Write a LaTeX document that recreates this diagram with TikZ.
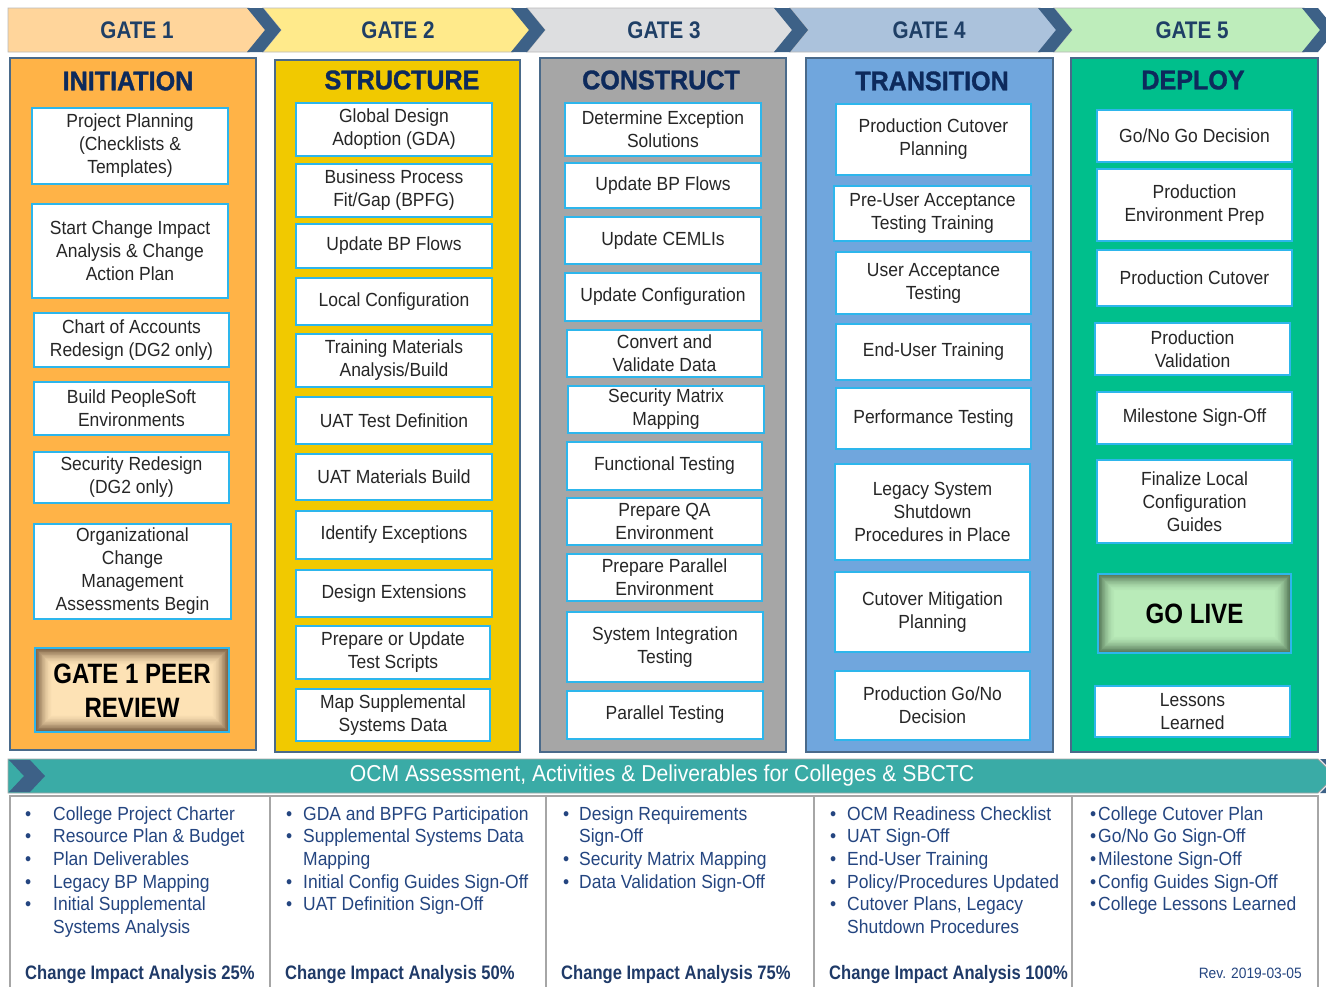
\documentclass[tikz,border=0pt]{standalone}
\usepackage{fontspec}
\setmainfont{Liberation Sans}
\newfontfamily\fntBox{Liberation Sans}[FakeStretch=0.92]
\newfontfamily\fntGate{Liberation Sans}[FakeStretch=0.86]
\newfontfamily\fntTitle{Liberation Sans}[FakeStretch=0.93, BoldFeatures={FakeBold=1.2}]
\newfontfamily\fntCI{Liberation Sans}[FakeStretch=0.85]
\newfontfamily\fntBig{Liberation Sans}[FakeStretch=0.86]

\definecolor{g1fill}{HTML}{FFD59B}
\definecolor{g2fill}{HTML}{FFEA8B}
\definecolor{g3fill}{HTML}{DDDEE0}
\definecolor{g4fill}{HTML}{ABC2DC}
\definecolor{g5fill}{HTML}{BEEDBB}
\definecolor{chev}{HTML}{3D6187}
\definecolor{c1fill}{HTML}{FFB347}
\definecolor{c2fill}{HTML}{F1C900}
\definecolor{c3fill}{HTML}{A6A6A6}
\definecolor{c4fill}{HTML}{70A6DD}
\definecolor{c5fill}{HTML}{00BF8C}
\definecolor{colline}{HTML}{4A6A8A}
\definecolor{boxblue}{HTML}{2DB6EC}
\definecolor{titlec}{HTML}{0D2A5C}
\definecolor{gatec}{HTML}{1F3F66}
\definecolor{boxtxt}{HTML}{262626}
\definecolor{ocmfill}{HTML}{3AABA6}
\definecolor{bullc}{HTML}{244580}
\definecolor{cic}{HTML}{1F3A68}
\definecolor{panelgray}{HTML}{A6A6A6}
\definecolor{peerdark}{HTML}{5E4329}
\definecolor{peerlight}{HTML}{FDE2B5}
\definecolor{godark}{HTML}{405F43}
\definecolor{golight}{HTML}{B9EBB9}

\tikzset{
  wbox/.style={draw=boxblue, line width=1.8pt, fill=white, align=center, inner sep=0pt,
    text=boxtxt, font={\fntBox\fontsize{19}{23}\selectfont}},
  colbox/.style={draw=colline, line width=1.2pt, inner sep=0pt},
  gatetxt/.style={text=gatec, font={\fntGate\bfseries\fontsize{24}{28}\selectfont}},
  coltitle/.style={text=titlec, font={\fntTitle\bfseries\fontsize{27}{30}\selectfont}},
  bigtxt/.style={text=black, align=center, font={\fntBig\bfseries\fontsize{28}{34}\selectfont}},
  bullist/.style={text=bullc, inner sep=0pt, font={\fntBox\fontsize{19}{22.7}\selectfont}},
  citxt/.style={text=cic, inner sep=0pt, font={\fntCI\bfseries\fontsize{19.5}{22}\selectfont}},
  gatefill/.style={draw=gray!55, line width=0.8pt},
}

\newcommand{\mkbox}[6]{\node[wbox, minimum width={#4-#2}, minimum height={#5-#3}] (#1) at ({(#2+#4)/2},{(#3+#5)/2}) {#6};}
\newcommand{\mkcol}[6]{\node[colbox, fill=#6, minimum width={#4-#2}, minimum height={#5-#3}] (#1) at ({(#2+#4)/2},{(#3+#5)/2}) {};}
\newcommand{\glowbox}[6]{%
  \fill[#6] (#1,#2) rectangle (#3,#4);
  \foreach \i in {0,...,23}{%
    \pgfmathsetmacro\dd{0.4+0.75*\i}%
    \pgfmathtruncatemacro\pp{90*(1-\i/24)^1.7}%
    \draw[line width=0.9pt, draw=#5!\pp!#6] ({#1+\dd},{#2+\dd}) rectangle ({#3-\dd},{#4-\dd});
  }
  \draw[boxblue, line width=1.2pt] (#1,#2) rectangle (#3,#4);
}
\newcommand{\chevband}[1]{\fill[chev] (#1,8) -- ({#1+16},8) -- ({#1+34},30) -- ({#1+16},52) -- (#1,52) -- ({#1+18},30) -- cycle;}

\begin{document}
\begin{tikzpicture}[x=1pt,y=-1pt]
\useasboundingbox (0,0) rectangle (1326,986);
\clip (0,0) rectangle (1326,986);
\fill[white] (0,0) rectangle (1326,986);

% ---------- gate banner ----------
\draw[gatefill, fill=g1fill] (8,8) -- (249,8) -- (267,30) -- (249,52) -- (8,52) -- cycle;
\draw[gatefill, fill=g2fill] (263,8) -- (513,8) -- (531,30) -- (513,52) -- (263,52) -- (281,30) -- cycle;
\draw[gatefill, fill=g3fill] (527,8) -- (776,8) -- (794,30) -- (776,52) -- (527,52) -- (545,30) -- cycle;
\draw[gatefill, fill=g4fill] (790,8) -- (1040,8) -- (1058,30) -- (1040,52) -- (790,52) -- (808,30) -- cycle;
\draw[gatefill, fill=g5fill] (1054,8) -- (1304,8) -- (1322,30) -- (1304,52) -- (1054,52) -- (1072,30) -- cycle;
\chevband{247}
\chevband{511}
\chevband{774}
\chevband{1038}
\chevband{1302}
\node[gatetxt] (g1) at (137,30) {GATE 1};
\node[gatetxt] (g2) at (398,30) {GATE 2};
\node[gatetxt] (g3) at (664,30) {GATE 3};
\node[gatetxt] (g4) at (929,30) {GATE 4};
\node[gatetxt] (g5) at (1192,30) {GATE 5};

% ---------- columns ----------
\mkcol{col1}{10}{58}{256}{750}{c1fill}
\mkcol{col2}{275}{60}{520}{752}{c2fill}
\mkcol{col3}{540}{58}{786}{752}{c3fill}
\mkcol{col4}{806}{58}{1053}{752}{c4fill}
\mkcol{col5}{1071}{58}{1318}{752}{c5fill}
\node[coltitle] (t1) at (128,81) {INITIATION};
\node[coltitle] (t2) at (402,80) {STRUCTURE};
\node[coltitle] (t3) at (661,80) {CONSTRUCT};
\node[coltitle] (t4) at (932,81) {TRANSITION};
\node[coltitle] (t5) at (1193,80) {DEPLOY};

% column 1
\mkbox{a1}{32}{108}{228}{184}{Project Planning\\(Checklists \&\\Templates)}
\mkbox{a2}{32}{204}{228}{298}{Start Change Impact\\Analysis \& Change\\Action Plan}
\mkbox{a3}{34}{313}{229}{367}{Chart of Accounts\\Redesign (DG2 only)}
\mkbox{a4}{34}{382}{229}{435}{Build PeopleSoft\\Environments}
\mkbox{a5}{34}{452}{229}{503}{Security Redesign\\(DG2 only)}
\mkbox{a6}{34}{524}{231}{619}{Organizational\\Change\\Management\\Assessments Begin}
\glowbox{35}{648}{229}{732}{peerdark}{peerlight}
\node[bigtxt] (peer) at (132,691) {GATE 1 PEER\\REVIEW};

% column 2
\mkbox{b1}{296}{103}{492}{156}{Global Design\\Adoption (GDA)}
\mkbox{b2}{296}{164}{492}{217}{Business Process\\Fit/Gap (BPFG)}
\mkbox{b3}{296}{224}{492}{268}{Update BP Flows}
\mkbox{b4}{296}{278}{492}{325}{Local Configuration}
\mkbox{b5}{296}{334}{492}{387}{Training Materials\\Analysis/Build}
\mkbox{b6}{296}{397}{492}{444}{UAT Test Definition}
\mkbox{b7}{296}{454}{492}{500}{UAT Materials Build}
\mkbox{b8}{296}{511}{492}{559}{Identify Exceptions}
\mkbox{b9}{296}{570}{492}{617}{Design Extensions}
\mkbox{b10}{296}{626}{490}{679}{Prepare or Update\\Test Scripts}
\mkbox{b11}{296}{689}{490}{741}{Map Supplemental\\Systems Data}

% column 3
\mkbox{c1}{565}{103}{761}{156}{Determine Exception\\Solutions}
\mkbox{c2}{565}{163}{761}{208}{Update BP Flows}
\mkbox{c3}{565}{217}{761}{264}{Update CEMLIs}
\mkbox{c4}{565}{273}{761}{321}{Update Configuration}
\mkbox{c5}{567}{330}{762}{377}{Convert and\\Validate Data}
\mkbox{c6}{568}{386}{764}{433}{Security Matrix\\Mapping}
\mkbox{c7}{567}{442}{762}{490}{Functional Testing}
\mkbox{c8}{567}{498}{762}{545}{Prepare QA\\Environment}
\mkbox{c9}{567}{554}{762}{601}{Prepare Parallel\\Environment}
\mkbox{c10}{567}{612}{763}{682}{System Integration\\Testing}
\mkbox{c11}{567}{691}{763}{739}{Parallel Testing}

% column 4
\mkbox{d1}{836}{104}{1031}{175}{Production Cutover\\Planning}
\mkbox{d2}{834}{186}{1031}{241}{Pre-User Acceptance\\Testing Training}
\mkbox{d3}{836}{252}{1031}{314}{User Acceptance\\Testing}
\mkbox{d4}{836}{324}{1031}{380}{End-User Training}
\mkbox{d5}{836}{388}{1031}{449}{Performance Testing}
\mkbox{d6}{835}{464}{1030}{560}{Legacy System\\Shutdown\\Procedures in Place}
\mkbox{d7}{835}{572}{1030}{652}{Cutover Mitigation\\Planning}
\mkbox{d8}{835}{671}{1030}{740}{Production Go/No\\Decision}

% column 5
\mkbox{e1}{1097}{110}{1292}{162}{Go/No Go Decision}
\mkbox{e2}{1097}{169}{1292}{241}{Production\\Environment Prep}
\mkbox{e3}{1097}{250}{1292}{306}{Production Cutover}
\mkbox{e4}{1095}{323}{1290}{375}{Production\\Validation}
\mkbox{e5}{1097}{392}{1292}{444}{Milestone Sign-Off}
\mkbox{e6}{1097}{460}{1292}{543}{Finalize Local\\Configuration\\Guides}
\glowbox{1098}{574}{1291}{653}{godark}{golight}
\node[bigtxt] (golive) at (1194.5,613.5) {GO LIVE};
\mkbox{e7}{1095}{686}{1290}{737}{Lessons\\Learned}

% ---------- OCM banner ----------
\draw[gray!70, line width=0.8pt, fill=ocmfill] (8,759) -- (1318,759) -- (1335,776) -- (1318,793) -- (8,793) -- cycle;
\fill[chev] (9,760) -- (30,760) -- (45,776) -- (30,792) -- (9,792) -- (24,776) -- cycle;
\fill[chev] (1320,759) -- (1336,759) -- (1353,776) -- (1336,793) -- (1320,793) -- (1337,776) -- cycle;
\node[text=white, font={\fntBox\fontsize{23}{26}\selectfont}] (ocm) at (662,776) {OCM Assessment, Activities \& Deliverables for Colleges \& SBCTC};

% ---------- bottom panel ----------
\draw[panelgray, line width=1.6pt] (10,990) -- (10,796) -- (1318,796) -- (1318,990);
\foreach \xx in {270,546,814,1072}{\draw[panelgray, line width=1.6pt] (\xx,796) -- (\xx,990);}

\node[bullist, anchor=north west] (o1) at (25,804) {\begin{tabular}{@{}p{28pt}@{}l@{}}
•&College Project Charter\\
•&Resource Plan \& Budget\\
•&Plan Deliverables\\
•&Legacy BP Mapping\\
•&Initial Supplemental\\
&Systems Analysis
\end{tabular}};
\node[bullist, anchor=north west] (o2) at (286,804) {\begin{tabular}{@{}p{17pt}@{}l@{}}
•&GDA and BPFG Participation\\
•&Supplemental Systems Data\\
&Mapping\\
•&Initial Config Guides Sign-Off\\
•&UAT Definition Sign-Off
\end{tabular}};
\node[bullist, anchor=north west] (o3) at (563,804) {\begin{tabular}{@{}p{16pt}@{}l@{}}
•&Design Requirements\\
&Sign-Off\\
•&Security Matrix Mapping\\
•&Data Validation Sign-Off
\end{tabular}};
\node[bullist, anchor=north west] (o4) at (830,804) {\begin{tabular}{@{}p{17pt}@{}l@{}}
•&OCM Readiness Checklist\\
•&UAT Sign-Off\\
•&End-User Training\\
•&Policy/Procedures Updated\\
•&Cutover Plans, Legacy\\
&Shutdown Procedures
\end{tabular}};
\node[bullist, anchor=north west] (o5) at (1090,804) {\begin{tabular}{@{}p{8pt}@{}l@{}}
•&College Cutover Plan\\
•&Go/No Go Sign-Off\\
•&Milestone Sign-Off\\
•&Config Guides Sign-Off\\
•&College Lessons Learned
\end{tabular}};

\node[citxt, anchor=base west] (ci1) at (25,979) {Change Impact Analysis 25\%};
\node[citxt, anchor=base west] (ci2) at (285,979) {Change Impact Analysis 50\%};
\node[citxt, anchor=base west] (ci3) at (561,979) {Change Impact Analysis 75\%};
\node[citxt, anchor=base west] (ci4) at (829,979) {Change Impact Analysis 100\%};
\node[text=bullc, inner sep=0pt, anchor=base east, font={\fntBox\fontsize{15}{18}\selectfont}] (rev) at (1302,978) {Rev. 2019-03-05};
\end{tikzpicture}
\end{document}
